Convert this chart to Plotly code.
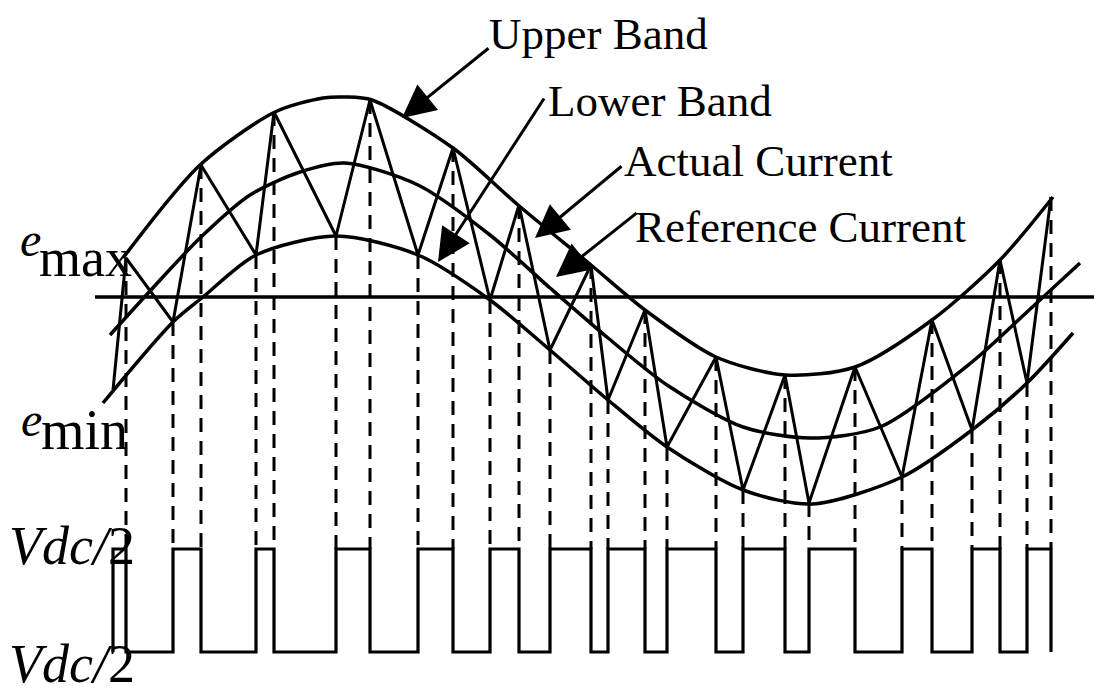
import plotly.graph_objects as go

# ---- data (pixel-like drawing units, y grows downward) ----
upper_x = [123, 200, 275, 323, 345, 372, 453, 518, 591, 645, 716, 785, 855, 932, 1000, 1053]
upper_y = [258, 165, 112, 98, 97, 100, 148, 205, 265, 310, 357, 375, 367, 320, 260, 197]

ref_x = [110, 150, 200, 250, 300, 345, 418, 490, 550, 608, 667, 743, 810, 880, 972, 1027, 1080]
ref_y = [335, 291, 238, 195, 172, 163, 185, 235, 288, 338, 385, 427, 438, 427, 362, 312, 263]

lower_x = [103, 173, 203, 256, 336, 418, 490, 550, 608, 667, 743, 812, 902, 972, 1027, 1073]
lower_y = [403, 322, 297, 255, 236, 255, 300, 350, 400, 447, 490, 504, 477, 430, 383, 333]

zig_x = [113, 126, 173, 201, 256, 274, 336, 370, 418, 453, 490, 519, 550, 591,
         608, 645, 667, 716, 743, 785, 809, 855, 902, 932, 972, 1000, 1027, 1051]
zig_y = [390, 258, 322, 165, 255, 112, 236, 100, 255, 148, 300, 205, 350, 265,
         400, 310, 447, 357, 490, 375, 503, 367, 477, 320, 430, 260, 383, 197]

axis_y = 297
axis_x = [95, 1094]
pulse_high = 549
pulse_low = 652

labels = ["Upper Band", "Lower Band", "Actual Current", "Reference Current"]
label_x = [487, 546, 622, 633]
label_y = [34, 101, 161, 227]
arrow_tail_x = [490, 545, 623, 638]
arrow_tail_y = [47, 97, 165, 212]
arrow_tip_x = [402, 438, 535, 556]
arrow_tip_y = [118, 262, 238, 277]

# ---- build derived geometry ----
dash_x, dash_y = [], []
for i in range(1, len(zig_x)):
    dash_x += [zig_x[i], zig_x[i], None]
    dash_y += [zig_y[i], pulse_high, None]

px, py = [zig_x[0]], [pulse_low]
for i in range(len(zig_x) - 1):
    level = pulse_high if i % 2 == 0 else pulse_low
    px += [zig_x[i], zig_x[i + 1]]
    py += [level, level]
px.append(zig_x[-1])
py.append(pulse_low)

fig = go.Figure()
band_line = dict(color="black", width=3.5, shape="spline", smoothing=0.8)
for bx, by in [(upper_x, upper_y), (ref_x, ref_y), (lower_x, lower_y)]:
    fig.add_trace(go.Scatter(x=bx, y=by, mode="lines", line=band_line, hoverinfo="skip"))

fig.add_trace(go.Scatter(x=dash_x, y=dash_y, mode="lines",
                         line=dict(color="black", width=3, dash="14px,9px"), hoverinfo="skip"))
fig.add_trace(go.Scatter(x=zig_x, y=zig_y, mode="lines",
                         line=dict(color="black", width=3), hoverinfo="skip"))
fig.add_trace(go.Scatter(x=axis_x, y=[axis_y, axis_y], mode="lines",
                         line=dict(color="black", width=3.5), hoverinfo="skip"))
fig.add_trace(go.Scatter(x=px, y=py, mode="lines",
                         line=dict(color="black", width=3.2), hoverinfo="skip"))

serif = "Liberation Serif"
ann = []
for t, x, y in zip(labels, label_x, label_y):
    ann.append(dict(x=x, y=y, text=t, showarrow=False, xanchor="left", yanchor="middle",
                    font=dict(family=serif, size=45, color="black")))
for tx, ty, hx, hy in zip(arrow_tail_x, arrow_tail_y, arrow_tip_x, arrow_tip_y):
    ann.append(dict(x=hx, y=hy, ax=tx, ay=ty, axref="x", ayref="y", text="",
                    showarrow=True, arrowhead=2, arrowsize=2.2, arrowwidth=3,
                    arrowcolor="black"))

# e_max / e_min labels
ann.append(dict(x=19, y=239, text="<i>e</i>", showarrow=False, xanchor="left", yanchor="middle",
                borderpad=0, font=dict(family=serif, size=48, color="black")))
ann.append(dict(x=38, y=258, text="max", showarrow=False, xanchor="left", yanchor="middle",
                borderpad=0, font=dict(family=serif, size=54, color="black")))
ann.append(dict(x=20, y=419, text="<i>e</i>", showarrow=False, xanchor="left", yanchor="middle",
                borderpad=0, font=dict(family=serif, size=48, color="black")))
ann.append(dict(x=40, y=430, text="min", showarrow=False, xanchor="left", yanchor="middle",
                borderpad=0, font=dict(family=serif, size=56, color="black")))
# Vdc/2 labels
ann.append(dict(x=8, y=546, text="<i>Vdc/</i>2", showarrow=False, xanchor="left", yanchor="middle",
                borderpad=0, font=dict(family=serif, size=54, color="black")))
ann.append(dict(x=8, y=664, text="<i>Vdc/</i>2", showarrow=False, xanchor="left", yanchor="middle",
                borderpad=0, font=dict(family=serif, size=54, color="black")))

fig.update_layout(
    width=1094, height=693,
    margin=dict(l=0, r=0, t=0, b=0, pad=0),
    paper_bgcolor="white", plot_bgcolor="white",
    showlegend=False,
    xaxis=dict(range=[0, 1094], visible=False, fixedrange=True),
    yaxis=dict(range=[693, 0], visible=False, fixedrange=True),
    annotations=ann,
)

fig.write_html("out.html", config={"displayModeBar": False},
               post_script="document.body.style.margin='0px';")
